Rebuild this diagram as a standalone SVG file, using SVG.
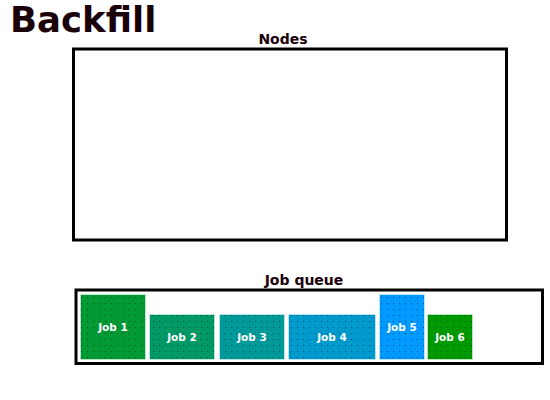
<svg xmlns="http://www.w3.org/2000/svg" width="550" height="400" viewBox="0 0 550 400">
  <defs>
    <pattern id="dots" width="6" height="6" patternUnits="userSpaceOnUse">
      <rect x="3" y="3" width="1" height="1" fill="#001a40" fill-opacity="0.55"/>
    </pattern>
    <style>
      .title { font-family: "DejaVu Sans", Verdana, sans-serif; font-weight: bold; fill: #1a0008; }
      .frame { fill: none; stroke: #000; stroke-width: 3; }
      .job { stroke: #ffffff; stroke-opacity: 0.45; stroke-width: 1; }
      .dots { fill: url(#dots); }
      .lbl { font-family: "DejaVu Sans", Verdana, sans-serif; font-weight: bold; font-size: 10.5px; fill: #ffffff; text-anchor: middle; }
    </style>
  </defs>
  <rect width="550" height="400" fill="#ffffff"/>
  <text class="title" x="10" y="32" font-size="35.5">Backfill</text>

  <g id="nodes">
    <rect class="frame" x="73.5" y="49" width="433" height="191"/>
    <text class="title" x="283" y="43.5" font-size="14" text-anchor="middle">Nodes</text>
  </g>

  <g id="job-queue">
    <rect class="frame" x="76" y="290" width="466.5" height="73.5"/>
    <text class="title" x="304" y="285" font-size="14" text-anchor="middle">Job queue</text>
  </g>

  <g id="job1">
    <rect class="job" x="80.5" y="294.5" width="65" height="65" fill="#009933"/>
    <rect class="dots" x="81" y="295" width="64" height="64"/>
    <text class="lbl" x="113" y="330.5">Job 1</text>
  </g>
  <g id="job2">
    <rect class="job" x="149.5" y="314.5" width="65" height="45" fill="#009966"/>
    <rect class="dots" x="150" y="315" width="64" height="44"/>
    <text class="lbl" x="182" y="340.5">Job 2</text>
  </g>
  <g id="job3">
    <rect class="job" x="219.5" y="314.5" width="65" height="45" fill="#009999"/>
    <rect class="dots" x="220" y="315" width="64" height="44"/>
    <text class="lbl" x="252" y="340.5">Job 3</text>
  </g>
  <g id="job4">
    <rect class="job" x="288.5" y="314.5" width="87" height="45" fill="#0099cc"/>
    <rect class="dots" x="289" y="315" width="86" height="44"/>
    <text class="lbl" x="332" y="340.5">Job 4</text>
  </g>
  <g id="job5">
    <rect class="job" x="379.5" y="294.5" width="45" height="65" fill="#0099ff"/>
    <rect class="dots" x="380" y="295" width="44" height="64"/>
    <text class="lbl" x="402" y="330.5">Job 5</text>
  </g>
  <g id="job6">
    <rect class="job" x="427.5" y="314.5" width="45" height="45" fill="#009900"/>
    <rect class="dots" x="428" y="315" width="44" height="44"/>
    <text class="lbl" x="450" y="340.5" font-size="8.5">Job 6</text>
  </g>

  <g id="connectors"></g>
</svg>
